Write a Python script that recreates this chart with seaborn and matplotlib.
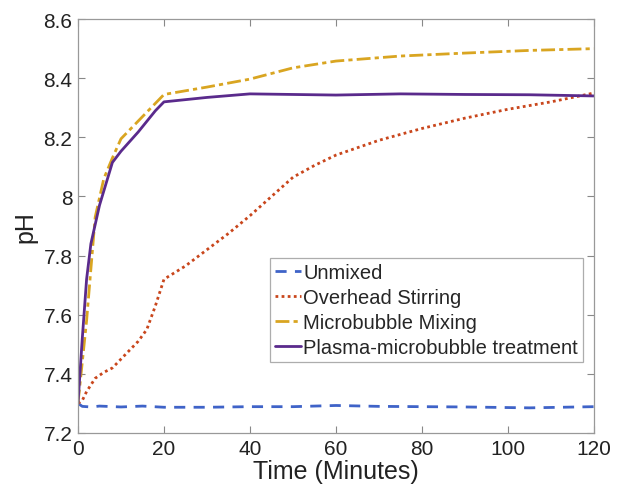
import matplotlib
matplotlib.use("Agg")
import matplotlib.pyplot as plt
import seaborn as sns
import pandas as pd

unmixed_t = [0, 1, 3, 5, 10, 15, 20, 30, 40, 50, 60, 70, 80, 90, 105, 120]
unmixed_ph = [7.30, 7.29, 7.288, 7.291, 7.288, 7.291, 7.287, 7.287, 7.289, 7.289, 7.293, 7.290, 7.289, 7.288, 7.285, 7.289]

overhead_t = [0, 1, 2, 4, 6, 8, 10, 12, 14, 16, 18, 20, 25, 30, 35, 40, 45, 50, 55, 60, 70, 80, 90, 100, 110, 120]
overhead_ph = [7.30, 7.31, 7.34, 7.385, 7.405, 7.42, 7.45, 7.48, 7.51, 7.55, 7.63, 7.72, 7.765, 7.82, 7.875, 7.935, 8.0, 8.065, 8.105, 8.14, 8.19, 8.23, 8.265, 8.295, 8.32, 8.35]

micro_t = [0, 2, 4, 6, 8, 10, 15, 20, 30, 40, 50, 60, 75, 90, 105, 120]
micro_ph = [7.30, 7.58, 7.93, 8.06, 8.13, 8.195, 8.27, 8.345, 8.37, 8.397, 8.435, 8.458, 8.475, 8.485, 8.494, 8.50]

plasma_t = [0, 1, 2, 3, 5, 8, 10, 14, 18, 20, 30, 40, 60, 75, 90, 105, 120]
plasma_ph = [7.30, 7.52, 7.72, 7.84, 7.97, 8.115, 8.153, 8.218, 8.29, 8.32, 8.335, 8.347, 8.343, 8.347, 8.345, 8.344, 8.34]

labels = ["Unmixed", "Overhead Stirring", "Microbubble Mixing", "Plasma-microbubble treatment"]
x_ticks = [0, 20, 40, 60, 80, 100, 120]
y_ticks = [7.2, 7.4, 7.6, 7.8, 8.0, 8.2, 8.4, 8.6]
y_ticklabels = ["7.2", "7.4", "7.6", "7.8", "8", "8.2", "8.4", "8.6"]

sns.set_theme(style="white")
plt.rcParams['font.family'] = ['Liberation Sans', 'DejaVu Sans']

fig = plt.figure(figsize=(6.17, 5.02), dpi=100)
ax = fig.add_axes([0.1264, 0.1355, 0.8363, 0.8245])

series = [
    (unmixed_t, unmixed_ph, "#3F63C8", (0, (4, 3))),
    (overhead_t, overhead_ph, "#C9461C", (0, (1, 1.2))),
    (micro_t, micro_ph, "#D9A521", (0, (5, 1.5, 1.5, 1.5))),
    (plasma_t, plasma_ph, "#5A2A8C", "-"),
]
for (t, p, c, ls), lab in zip(series, labels):
    df = pd.DataFrame({"t": t, "pH": p})
    sns.lineplot(data=df, x="t", y="pH", ax=ax, color=c, linewidth=2.0,
                 linestyle=ls, label=lab)

ax.set_xlim(0, 120)
ax.set_ylim(7.2, 8.6)
ax.set_xticks(x_ticks)
ax.set_yticks(y_ticks)
ax.set_yticklabels(y_ticklabels)
ax.tick_params(axis='both', direction='in', length=5, width=0.8, color='#888888',
               labelsize=15, labelcolor='#222222', top=True, right=True,
               bottom=True, left=True, pad=4)
for s in ax.spines.values():
    s.set_color('#999999')
    s.set_linewidth(0.9)
ax.set_xlabel("Time (Minutes)", fontsize=18, color='#222222', labelpad=1)
ax.set_ylabel("pH", fontsize=18, color='#222222', labelpad=4)

leg = ax.legend(loc='lower right', bbox_to_anchor=(0.979, 0.171), fontsize=14.5,
                frameon=True, fancybox=False, edgecolor='#999999',
                handlelength=1.3, handletextpad=0.1, borderpad=0.25,
                labelspacing=0.3, borderaxespad=0)
leg.get_frame().set_linewidth(0.9)

fig.savefig("out.png", dpi=100)
